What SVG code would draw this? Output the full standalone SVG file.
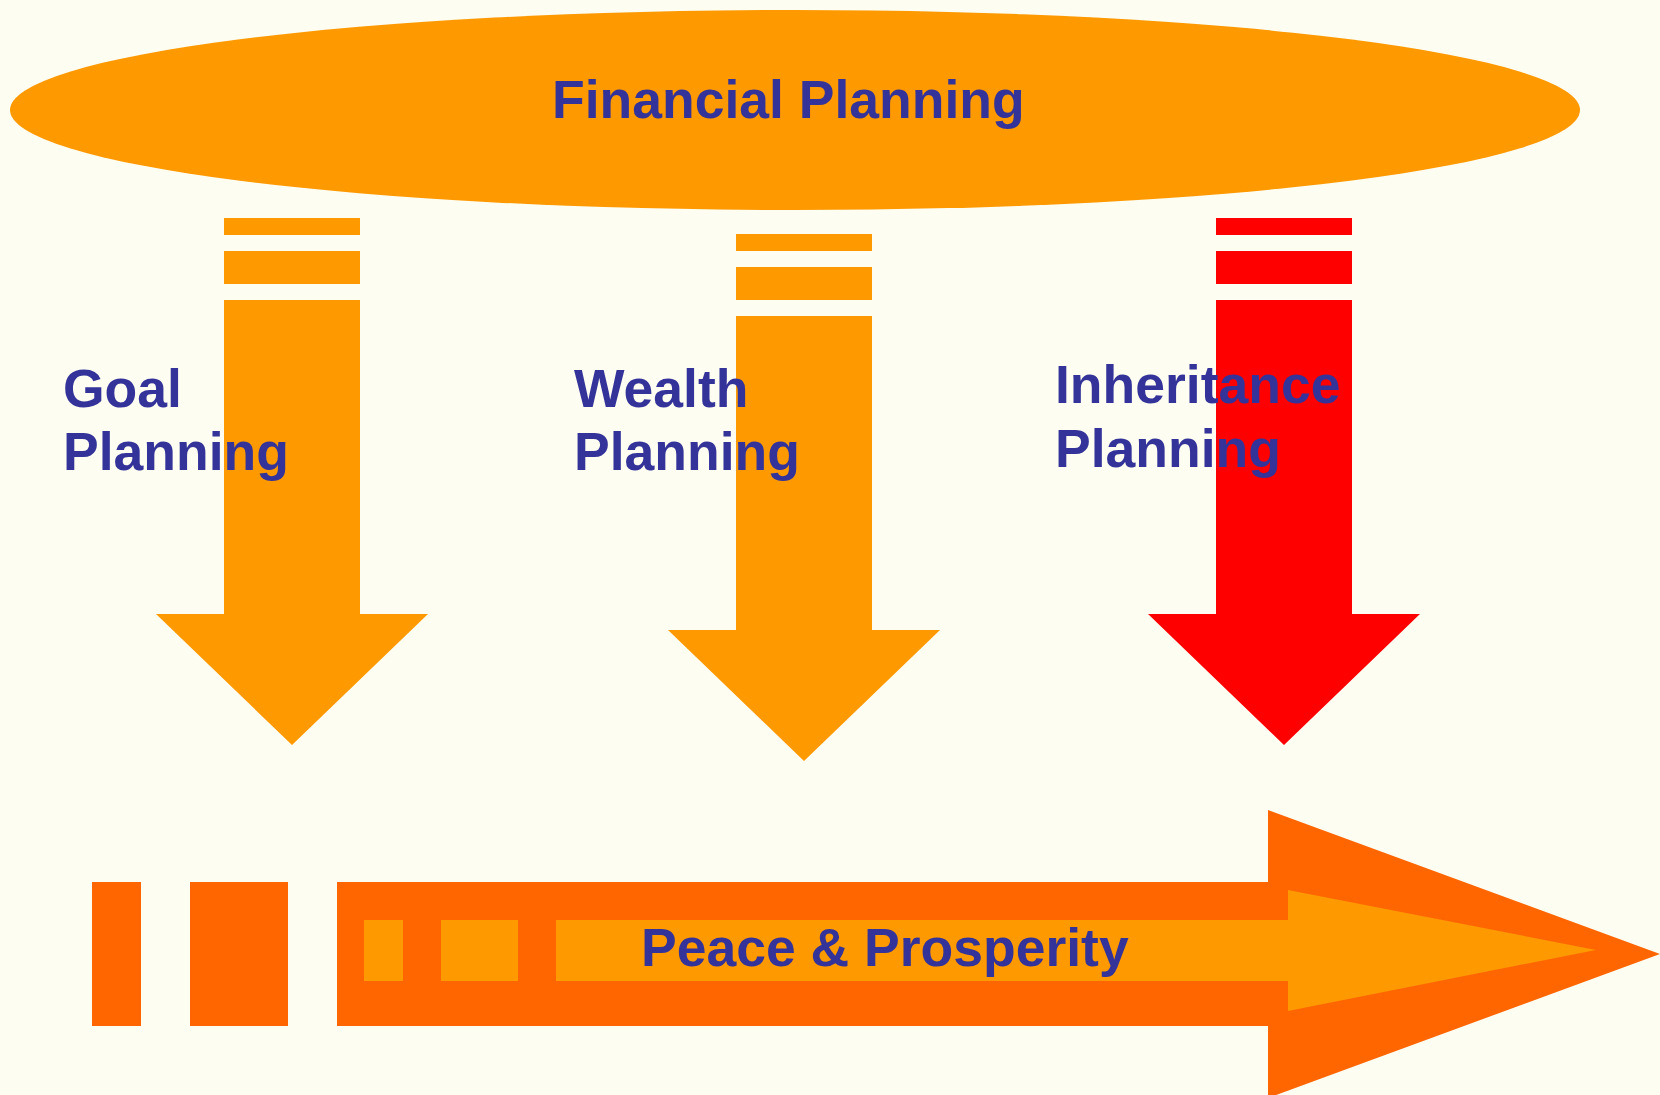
<svg xmlns="http://www.w3.org/2000/svg" width="1660" height="1095" viewBox="0 0 1660 1095">
  <style>
    .lbl { font-family: "Liberation Sans", Arial, sans-serif; font-weight: bold; font-size: 53.5px; fill: #333399; }
    .orange { fill: #FF9900; }
    .red { fill: #FF0000; }
    .dark { fill: #FF6600; }
  </style>
  <defs>
    <g id="downArrow">
      <rect x="-68" y="0" width="136" height="17"/>
      <rect x="-68" y="33" width="136" height="33"/>
      <polygon points="-68,82 68,82 68,396 136,396 0,527 -136,396 -68,396"/>
    </g>
  </defs>
  <rect x="0" y="0" width="1660" height="1095" fill="#FDFDF2"/>

  <g id="financial-planning">
    <ellipse cx="795" cy="110" rx="785" ry="100" class="orange"/>
    <text class="lbl" x="552" y="118">Financial Planning</text>
  </g>

  <g id="connectors">
    <use href="#downArrow" x="292" y="218" class="orange"/>
    <use href="#downArrow" x="804" y="234" class="orange"/>
    <use href="#downArrow" x="1284" y="218" class="red"/>
  </g>

  <g id="goal-planning">
    <text class="lbl" x="63" y="407">Goal</text>
    <text class="lbl" x="63" y="470">Planning</text>
  </g>

  <g id="wealth-planning">
    <text class="lbl" x="574" y="407">Wealth</text>
    <text class="lbl" x="574" y="470">Planning</text>
  </g>

  <g id="inheritance-planning">
    <text class="lbl" x="1055" y="403">Inheritance</text>
    <text class="lbl" x="1055" y="467">Planning</text>
  </g>

  <g id="peace-prosperity">
    <rect x="92" y="882" width="49" height="144" class="dark"/>
    <rect x="190" y="882" width="98" height="144" class="dark"/>
    <polygon class="dark" points="337,882 1268,882 1268,810 1660,954 1268,1098 1268,1026 337,1026"/>
    <rect x="364" y="920" width="39" height="61" class="orange"/>
    <rect x="441" y="920" width="77" height="61" class="orange"/>
    <polygon class="orange" points="556,920 1288,920 1288,890 1596,950 1288,1011 1288,981 556,981"/>
    <text class="lbl" x="641" y="966">Peace &amp; Prosperity</text>
  </g>
</svg>
